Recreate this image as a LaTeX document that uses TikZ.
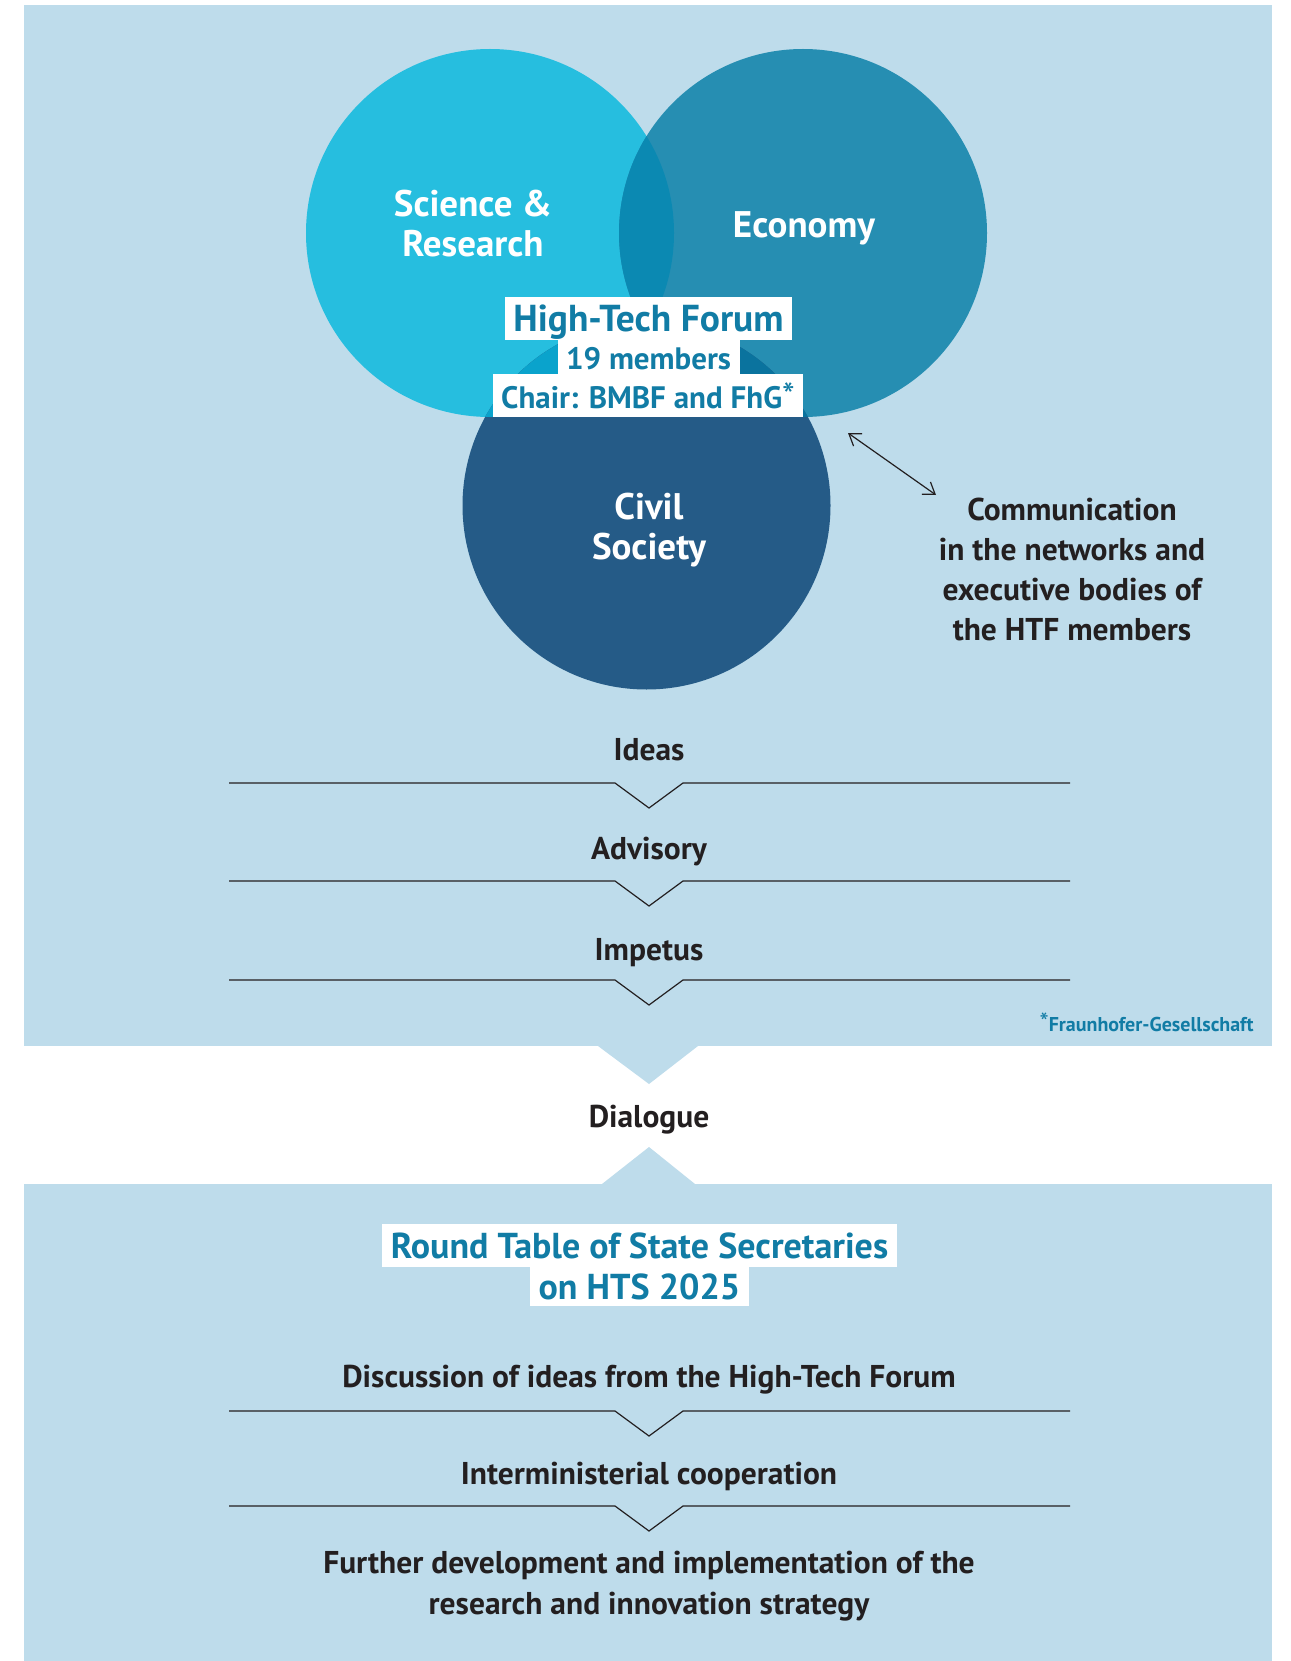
\documentclass[tikz,border=0pt]{standalone}
\usepackage{fontspec}
\setmainfont{PT Sans}
\usetikzlibrary{arrows.meta, positioning, calc}
\definecolor{htfpanel}{RGB}{190,220,235}
\definecolor{htfcyan}{RGB}{38,190,223}
\definecolor{htfblue}{RGB}{38,142,178}
\definecolor{htfnavy}{RGB}{37,91,135}
\definecolor{htfcyanblue}{RGB}{11,137,178}
\definecolor{htfcyannavy}{RGB}{10,163,204}
\definecolor{htfbluenavy}{RGB}{10,115,158}
\definecolor{htfall}{RGB}{8,118,160}
\definecolor{htfteal}{RGB}{17,124,165}
\definecolor{htfdark}{RGB}{35,31,32}
\tikzset{
  %% ---- circles ----
  sector/.style   = {circle, minimum size=368pt, inner sep=0pt, fill=#1},
  sectorlbl/.style= {text=white, align=center, anchor=base,
                     font=\fontsize{37}{40}\selectfont\bfseries},
  %% ---- white tags ----
  tag/.style      = {fill=white, text=htfteal, inner xsep=8.5pt, inner ysep=0pt,
                     text height=25pt, text depth=0pt, minimum height=#1},
  tag/.default    = 40pt,
  %% ---- process text ----
  steptxt/.style  = {text=htfdark, align=center, anchor=base,
                     font=\fontsize{31.5}{40}\selectfont\bfseries},
  chevron/.style  = {draw=htfdark, line width=1.2pt, line join=miter},
  comm/.style     = {<->, >={Straight Barb[length=11pt, width=15pt]},
                     line width=1.2pt, draw=htfdark},
}

\begin{document}
\begin{tikzpicture}[x=1pt, y=-1pt]
\useasboundingbox (0,0) rectangle (1290,1661);

%% ---- panels ----
\fill[htfpanel] (24,5) rectangle (1272,1046);
\fill[htfpanel] (24,1184) rectangle (1272,1661);
\fill[htfpanel] (598,1046) -- (698,1046) -- (649,1084) -- cycle;
\fill[htfpanel] (602,1184) -- (649,1147) -- (695,1184) -- cycle;

%% ---- the three sectors ----
\node[sector=htfcyan] (sci) at (490,233) {};
\node[sector=htfblue] (eco) at (803,233) {};
\node[sector=htfnavy] (civ) at (646.5,505.5) {};
\begin{scope}
  \clip (sci.center) circle [radius=184];
  \fill[htfcyanblue] (eco.center) circle [radius=184];
  \fill[htfcyannavy] (civ.center) circle [radius=184];
  \clip (eco.center) circle [radius=184];
  \fill[htfall] (civ.center) circle [radius=184];
\end{scope}
\begin{scope}
  \clip (eco.center) circle [radius=184];
  \clip (civ.center) circle [radius=184];
  \fill[htfbluenavy] (eco.center) circle [radius=184];
  \clip (sci.center) circle [radius=184];
  \fill[htfall] (sci.center) circle [radius=184];
\end{scope}

% base = baseline of the last line
\node[sectorlbl] (scilbl) at (473,257) {Science \&\\Research};
\node[sectorlbl] (ecolbl) at (804,238) {Economy};
\node[sectorlbl] (civlbl) at (649,559) {Civil\\Society};

\node[tag=43pt, font=\fontsize{37.5}{40}\selectfont\bfseries] (htf) at (648.5,318.5) {High-Tech Forum};
\node[tag=34pt, font=\fontsize{31}{34}\selectfont\bfseries] (members) at (648.5,356.7) {19 members};
\node[tag=43pt, font=\fontsize{31}{34}\selectfont\bfseries] (chair) at (648,395.5)
  {Chair: BMBF and FhG{\fontsize{36}{36}\selectfont\mdseries*}};

%% ---- communication ----
\coordinate (commA) at (848,433);
\coordinate (commB) at (936,495);
\draw[comm] (commA) -- (commB);
\node[steptxt] (commtxt) at (1072,640)
  {Communication\\in the networks and\\executive bodies of\\the HTF members};

%% ---- steps of the forum ----
\node[steptxt] (ideas) at (649,760) {Ideas};
\node[steptxt] (advisory) at (649,859) {Advisory};
\node[steptxt] (impetus) at (649,960) {Impetus};
\foreach \ly in {783,881,980,1411,1506}
  \draw[chevron] (229,\ly) -- (615,\ly) -- (649,\ly+25) -- (683,\ly) -- (1070,\ly);

\node[anchor=base east, text=htfteal, font=\fontsize{20}{22}\selectfont\bfseries]
  (fhg) at (1257,1031) {{\fontsize{26}{26}\selectfont\mdseries*}Fraunhofer-Gesellschaft};

\node[steptxt] (dialogue) at (649,1127) {Dialogue};

%% ---- round table ----
\node[tag=43pt, font=\fontsize{36}{40}\selectfont\bfseries] (rt) at (639.5,1245.5) {Round Table of State Secretaries};
\node[tag=39pt, font=\fontsize{36}{40}\selectfont\bfseries] (hts) at (639.5,1286.5) {on HTS 2025};

\node[steptxt] (discuss) at (649,1387) {Discussion of ideas from the High-Tech Forum};
\node[steptxt] (inter) at (649,1484) {Interministerial cooperation};
\node[steptxt, font=\fontsize{31.5}{41}\selectfont\bfseries] (further) at (649,1614)
  {Further development and implementation of the\\research and innovation strategy};
\end{tikzpicture}
\end{document}
